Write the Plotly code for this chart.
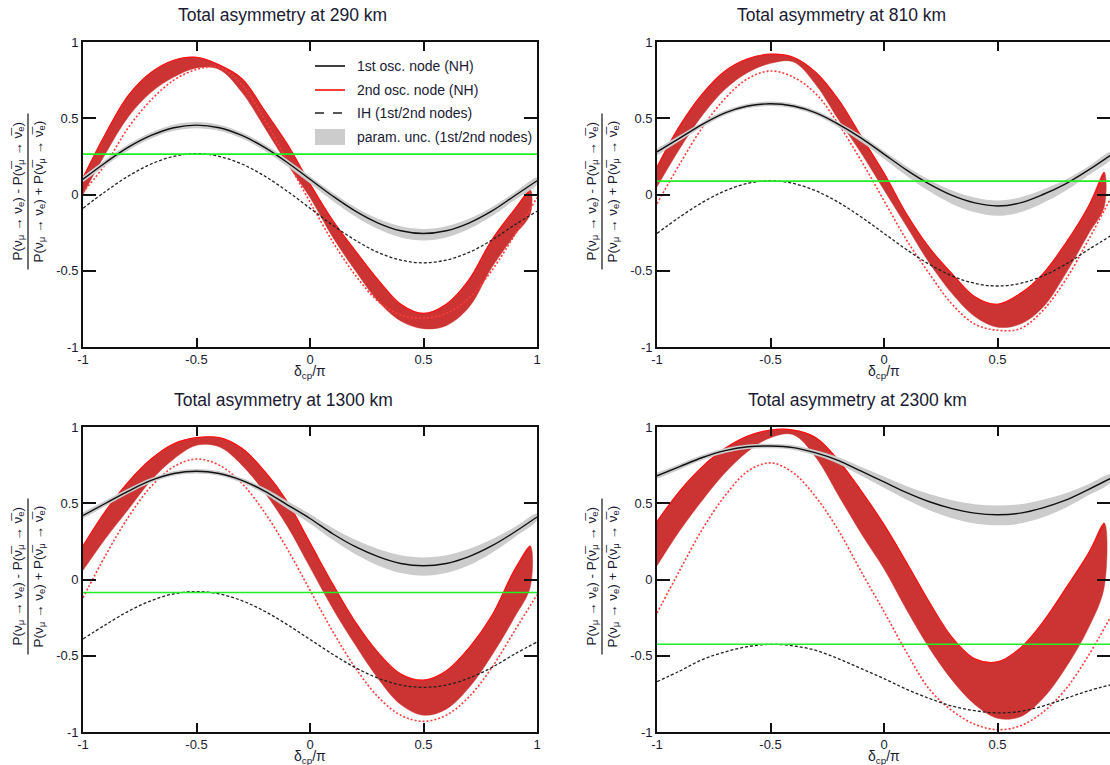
import plotly.graph_objects as go

# ---------------- data ----------------
x_grid = [-1.0, -0.9, -0.8, -0.7, -0.6, -0.5, -0.4, -0.3, -0.2, -0.1, 0.0,
          0.1, 0.2, 0.3, 0.4, 0.5, 0.6, 0.7, 0.8, 0.9, 1.0]
x_red = [-1.0, -0.9, -0.8, -0.7, -0.6, -0.5, -0.4, -0.3, -0.2, -0.1, 0.0,
         0.1, 0.2, 0.3, 0.4, 0.5, 0.6, 0.7, 0.8, 0.9, 0.97]

titles = ["Total asymmetry at 290 km", "Total asymmetry at 810 km",
          "Total asymmetry at 1300 km", "Total asymmetry at 2300 km"]

# 1st oscillation node, NH (black solid)
nh1_290 = [0.10, 0.21, 0.31, 0.387, 0.438, 0.455, 0.438, 0.387, 0.309, 0.21, 0.10,
           -0.01, -0.109, -0.187, -0.238, -0.256, -0.238, -0.187, -0.109, -0.01, 0.09]
nh1_810 = [0.28, 0.37, 0.46, 0.535, 0.58, 0.595, 0.58, 0.535, 0.46, 0.37, 0.265,
           0.16, 0.068, -0.006, -0.055, -0.075, -0.055, 0.0, 0.07, 0.16, 0.26]
nh1_1300 = [0.42, 0.50, 0.58, 0.65, 0.695, 0.71, 0.695, 0.65, 0.58, 0.49, 0.40,
            0.30, 0.215, 0.15, 0.105, 0.09, 0.105, 0.15, 0.22, 0.31, 0.41]
nh1_2300 = [0.68, 0.74, 0.80, 0.845, 0.87, 0.875, 0.865, 0.83, 0.78, 0.71, 0.64,
            0.57, 0.51, 0.465, 0.435, 0.425, 0.435, 0.47, 0.52, 0.59, 0.665]

# parameter uncertainty (grey band) above / below the black curve
unc_up_290 = [0.02, 0.02, 0.02, 0.02, 0.02, 0.02, 0.02, 0.02, 0.02, 0.02, 0.02,
              0.022, 0.025, 0.028, 0.03, 0.03, 0.03, 0.028, 0.025, 0.022, 0.02]
unc_dn_290 = [0.02, 0.02, 0.02, 0.02, 0.02, 0.02, 0.02, 0.02, 0.022, 0.025, 0.028,
              0.032, 0.036, 0.04, 0.044, 0.045, 0.044, 0.04, 0.034, 0.028, 0.022]
unc_up_810 = [0.02, 0.018, 0.016, 0.015, 0.015, 0.015, 0.015, 0.015, 0.016, 0.018, 0.02,
              0.024, 0.028, 0.032, 0.035, 0.035, 0.035, 0.032, 0.028, 0.024, 0.02]
unc_dn_810 = [0.025, 0.02, 0.018, 0.015, 0.015, 0.015, 0.015, 0.016, 0.02, 0.025, 0.03,
              0.038, 0.047, 0.056, 0.062, 0.065, 0.062, 0.055, 0.045, 0.035, 0.025]
unc_up_1300 = [0.02, 0.018, 0.016, 0.015, 0.015, 0.015, 0.015, 0.016, 0.02, 0.025, 0.03,
               0.037, 0.045, 0.05, 0.054, 0.055, 0.054, 0.05, 0.042, 0.032, 0.022]
unc_dn_1300 = [0.02, 0.018, 0.016, 0.015, 0.015, 0.015, 0.015, 0.016, 0.02, 0.026, 0.032,
               0.04, 0.05, 0.058, 0.063, 0.065, 0.063, 0.057, 0.046, 0.034, 0.022]
unc_up_2300 = [0.02, 0.018, 0.016, 0.015, 0.015, 0.015, 0.015, 0.017, 0.022, 0.028, 0.035,
               0.042, 0.05, 0.055, 0.059, 0.06, 0.058, 0.053, 0.045, 0.035, 0.025]
unc_dn_2300 = [0.02, 0.018, 0.016, 0.015, 0.015, 0.015, 0.015, 0.017, 0.022, 0.03, 0.038,
               0.047, 0.056, 0.064, 0.068, 0.07, 0.068, 0.062, 0.05, 0.038, 0.025]

# IH, 1st node (black dashed)
ih1_290 = [-0.09, 0.021, 0.121, 0.20, 0.25, 0.268, 0.25, 0.20, 0.121, 0.021, -0.09,
           -0.201, -0.30, -0.38, -0.43, -0.448, -0.43, -0.38, -0.30, -0.201, -0.11]
ih1_810 = [-0.255, -0.148, -0.052, 0.024, 0.073, 0.09, 0.073, 0.024, -0.052, -0.148, -0.255,
           -0.362, -0.458, -0.534, -0.583, -0.60, -0.583, -0.534, -0.458, -0.362, -0.27]
ih1_1300 = [-0.39, -0.296, -0.208, -0.139, -0.094, -0.079, -0.094, -0.139, -0.208, -0.296, -0.393,
            -0.49, -0.578, -0.647, -0.692, -0.707, -0.692, -0.647, -0.578, -0.49, -0.41]
ih1_2300 = [-0.67, -0.60, -0.525, -0.475, -0.44, -0.425, -0.435, -0.465, -0.52, -0.585, -0.65,
            -0.72, -0.78, -0.83, -0.86, -0.875, -0.865, -0.83, -0.78, -0.73, -0.69]

# 2nd oscillation node, NH: band edges (red)
nh2_hi_290 = [0.11, 0.40, 0.65, 0.80, 0.88, 0.90, 0.85, 0.76, 0.55, 0.33, 0.07,
              -0.17, -0.37, -0.56, -0.72, -0.78, -0.72, -0.56, -0.30, -0.10, 0.03]
nh2_lo_290 = [0.00, 0.27, 0.51, 0.67, 0.77, 0.83, 0.82, 0.67, 0.44, 0.20, -0.02,
              -0.28, -0.50, -0.70, -0.83, -0.88, -0.86, -0.74, -0.48, -0.27, -0.13]
nh2_hi_810 = [0.18, 0.45, 0.66, 0.81, 0.89, 0.92, 0.90, 0.80, 0.62, 0.38, 0.14,
              -0.13, -0.35, -0.52, -0.67, -0.72, -0.65, -0.52, -0.32, -0.08, 0.146]
nh2_lo_810 = [0.05, 0.30, 0.52, 0.69, 0.80, 0.86, 0.87, 0.72, 0.49, 0.27, 0.03,
              -0.21, -0.45, -0.65, -0.80, -0.87, -0.85, -0.74, -0.52, -0.26, -0.08]
nh2_hi_1300 = [0.22, 0.45, 0.64, 0.79, 0.89, 0.93, 0.93, 0.86, 0.71, 0.51, 0.24,
               -0.03, -0.28, -0.48, -0.62, -0.66, -0.60, -0.45, -0.24, 0.06, 0.22]
nh2_lo_1300 = [0.06, 0.27, 0.46, 0.65, 0.79, 0.88, 0.87, 0.75, 0.57, 0.35, 0.08,
               -0.19, -0.43, -0.65, -0.82, -0.89, -0.85, -0.71, -0.50, -0.25, -0.05]
nh2_hi_2300 = [0.38, 0.58, 0.74, 0.86, 0.94, 0.98, 0.98, 0.93, 0.78, 0.58, 0.36,
               0.11, -0.15, -0.38, -0.52, -0.54, -0.45, -0.28, -0.06, 0.17, 0.37]
nh2_lo_2300 = [0.09, 0.32, 0.52, 0.70, 0.84, 0.93, 0.95, 0.80, 0.55, 0.30, 0.07,
               -0.20, -0.45, -0.66, -0.82, -0.91, -0.90, -0.78, -0.58, -0.32, -0.05]

# IH, 2nd node (red dotted)
ih2_290 = [0.015, 0.20, 0.44, 0.62, 0.75, 0.82, 0.835, 0.72, 0.49, 0.22, -0.05,
           -0.31, -0.53, -0.70, -0.79, -0.81, -0.78, -0.68, -0.50, -0.27, -0.02]
ih2_810 = [-0.06, 0.20, 0.44, 0.63, 0.76, 0.81, 0.77, 0.66, 0.46, 0.22, -0.04,
           -0.30, -0.52, -0.72, -0.85, -0.89, -0.88, -0.76, -0.56, -0.30, -0.02]
ih2_1300 = [-0.12, 0.16, 0.41, 0.61, 0.74, 0.79, 0.75, 0.63, 0.44, 0.20, -0.07,
            -0.34, -0.58, -0.77, -0.89, -0.93, -0.89, -0.77, -0.58, -0.34, -0.10]
ih2_2300 = [-0.22, 0.06, 0.33, 0.55, 0.71, 0.765, 0.70, 0.54, 0.32, 0.05, -0.21,
            -0.48, -0.72, -0.86, -0.95, -0.985, -0.96, -0.87, -0.72, -0.50, -0.24]

# green reference level per baseline
green_level = [0.265, 0.088, -0.085, -0.425]

x_ticks = [-1, -0.5, 0, 0.5, 1]
x_tick_text = ["-1", "-0.5", "0", "0.5", "1"]
y_ticks = [-1, -0.5, 0, 0.5, 1]
y_tick_text = ["-1", "-0.5", "0", "0.5", "1"]

legend_names = ["1st osc. node (NH)", "2nd osc. node (NH)",
                "IH (1st/2nd nodes)", "param. unc. (1st/2nd nodes)"]

panels = [
    (nh1_290, unc_up_290, unc_dn_290, ih1_290, nh2_hi_290, nh2_lo_290, ih2_290),
    (nh1_810, unc_up_810, unc_dn_810, ih1_810, nh2_hi_810, nh2_lo_810, ih2_810),
    (nh1_1300, unc_up_1300, unc_dn_1300, ih1_1300, nh2_hi_1300, nh2_lo_1300, ih2_1300),
    (nh1_2300, unc_up_2300, unc_dn_2300, ih1_2300, nh2_hi_2300, nh2_lo_2300, ih2_2300),
]

# ---------------- layout geometry (pixels) ----------------
W, H = 1110, 765
col_px = [(83, 537), (657, 1110)]
row_px = [(42, 347), (427, 732)]
title_cx = [282, 841, 283, 857]

FONT = "Liberation Sans, Arial, sans-serif"
TXT = "#1a1a33"
SM = 1.0

fig = go.Figure()

for i, (nh1, uu, ud, ih1, hi, lo, ih2) in enumerate(panels):
    xa = "x" if i == 0 else f"x{i+1}"
    ya = "y" if i == 0 else f"y{i+1}"
    # red band (2nd node NH)
    fig.add_trace(go.Scatter(
        x=x_red + x_red[::-1], y=hi + lo[::-1], xaxis=xa, yaxis=ya,
        mode="lines", fill="toself", fillcolor="#cc3333",
        line=dict(color="#cc3333", width=0.5, shape="spline", smoothing=SM),
        hoverinfo="skip", showlegend=False))
    fig.add_trace(go.Scatter(
        x=x_red, y=hi, xaxis=xa, yaxis=ya, mode="lines",
        line=dict(color="#ff1010", width=1.2, shape="spline", smoothing=SM),
        name=legend_names[1], showlegend=False))
    # red dotted (IH 2nd node)
    fig.add_trace(go.Scatter(
        x=x_grid, y=ih2, xaxis=xa, yaxis=ya, mode="lines",
        line=dict(color="#ff3b3b", width=1.6, dash="2px,2px", shape="spline", smoothing=SM),
        hoverinfo="skip", showlegend=False))
    # grey uncertainty band
    up = [a + b for a, b in zip(nh1, uu)]
    dn = [a - b for a, b in zip(nh1, ud)]
    fig.add_trace(go.Scatter(
        x=x_grid + x_grid[::-1], y=up + dn[::-1], xaxis=xa, yaxis=ya,
        mode="lines", fill="toself", fillcolor="#cccccc",
        line=dict(color="#cccccc", width=0, shape="spline", smoothing=SM),
        name=legend_names[3], showlegend=False))
    # black solid
    fig.add_trace(go.Scatter(
        x=x_grid, y=nh1, xaxis=xa, yaxis=ya, mode="lines",
        line=dict(color="#111111", width=1.4, shape="spline", smoothing=SM),
        name=legend_names[0], showlegend=False))
    # black dashed
    fig.add_trace(go.Scatter(
        x=x_grid, y=ih1, xaxis=xa, yaxis=ya, mode="lines",
        line=dict(color="#222222", width=1.3, dash="3px,2px", shape="spline", smoothing=SM),
        name=legend_names[2], showlegend=False))
    # green level
    fig.add_trace(go.Scatter(
        x=[-1, 1], y=[green_level[i], green_level[i]], xaxis=xa, yaxis=ya, mode="lines",
        line=dict(color="#22ee22", width=1.6), hoverinfo="skip", showlegend=False))

layout = {}
for i in range(4):
    r, c = divmod(i, 2)
    x0, x1 = col_px[c]
    y0, y1 = row_px[r]
    xr = [-1, -1 + 2 * (x1 - x0) / 454.0]
    xkey = "xaxis" if i == 0 else f"xaxis{i+1}"
    ykey = "yaxis" if i == 0 else f"yaxis{i+1}"
    ya = "y" if i == 0 else f"y{i+1}"
    xa = "x" if i == 0 else f"x{i+1}"
    layout[xkey] = dict(
        domain=[x0 / W, x1 / W], range=xr, anchor=ya, automargin=False,
        tickvals=x_ticks, ticktext=x_tick_text, ticks="inside", ticklen=9, tickwidth=1.5,
        tickcolor="#111", showline=True, linecolor="#111", linewidth=1.6, mirror="ticks",
        showgrid=False, zeroline=False, tickfont=dict(family=FONT, size=13, color=TXT))
    layout[ykey] = dict(
        domain=[1 - y1 / H, 1 - y0 / H], range=[-1, 1], anchor=xa, automargin=False,
        tickvals=y_ticks, ticktext=y_tick_text, ticks="inside", ticklen=13, tickwidth=1.5,
        tickcolor="#111", showline=True, linecolor="#111", linewidth=1.6, mirror="ticks",
        showgrid=False, zeroline=False, tickfont=dict(family=FONT, size=13, color=TXT))

fig.update_layout(**layout)

annotations = []
shapes = []
num_txt = "P(ν<sub>μ</sub> → ν<sub>e</sub>) - P(ν̅<sub>μ</sub> → ν̅<sub>e</sub>)"
den_txt = "P(ν<sub>μ</sub> → ν<sub>e</sub>) + P(ν̅<sub>μ</sub> → ν̅<sub>e</sub>)"
for i in range(4):
    r, c = divmod(i, 2)
    x0, x1 = col_px[c]
    y0, y1 = row_px[r]
    annotations.append(dict(
        text=titles[i], x=title_cx[i] / W, y=1 - (y0 - 27) / H, xref="paper", yref="paper",
        xanchor="center", yanchor="middle", showarrow=False,
        font=dict(family=FONT, size=17.5, color=TXT)))
    annotations.append(dict(
        text="δ<sub>cp</sub>/π", x=(x0 + 227) / W, y=1 - (y1 + 25) / H,
        xref="paper", yref="paper", xanchor="center", yanchor="middle", showarrow=False,
        font=dict(family=FONT, size=14, color=TXT)))
    yc = (y0 + y1) / 2 - 3
    base = 0 if c == 0 else 574
    annotations.append(dict(
        text=num_txt, x=(base + 18) / W, y=1 - yc / H, xref="paper", yref="paper",
        xanchor="center", yanchor="middle", textangle=-90, showarrow=False,
        font=dict(family=FONT, size=13.5, color=TXT)))
    annotations.append(dict(
        text=den_txt, x=(base + 39) / W, y=1 - yc / H, xref="paper", yref="paper",
        xanchor="center", yanchor="middle", textangle=-90, showarrow=False,
        font=dict(family=FONT, size=13.5, color=TXT)))
    shapes.append(dict(
        type="line", xref="paper", yref="paper",
        x0=(base + 28) / W, x1=(base + 28) / W,
        y0=1 - (yc - 78) / H, y1=1 - (yc + 78) / H,
        line=dict(color="#111", width=1.2)))

# manual legend in the first panel (symbols + real text)
leg_rows = [66, 90, 113, 137]
leg_styles = [dict(color="#111111", width=1.6), dict(color="#ff1010", width=1.6),
              dict(color="#222222", width=1.4, dash="dash")]
for k in range(3):
    shapes.append(dict(type="line", xref="paper", yref="paper",
                       x0=315 / W, x1=345 / W, y0=1 - leg_rows[k] / H, y1=1 - leg_rows[k] / H,
                       line=leg_styles[k]))
shapes.append(dict(type="rect", xref="paper", yref="paper",
                   x0=315 / W, x1=345 / W, y0=1 - (leg_rows[3] + 8) / H, y1=1 - (leg_rows[3] - 8) / H,
                   fillcolor="#cccccc", line=dict(width=0)))
for k in range(4):
    annotations.append(dict(
        text=legend_names[k], x=355 / W, y=1 - leg_rows[k] / H, xref="paper", yref="paper",
        xanchor="left", yanchor="middle", showarrow=False,
        font=dict(family=FONT, size=14, color=TXT)))

fig.update_layout(
    width=W, height=H, margin=dict(l=0, r=0, t=0, b=0, autoexpand=False),
    paper_bgcolor="white", plot_bgcolor="white",
    annotations=annotations, shapes=shapes, showlegend=False,
    font=dict(family=FONT),
)

fig.write_html("out.html",
               config={"displayModeBar": False},
               post_script="document.body.style.margin='0px';"
                           "document.body.style.overflow='hidden';")
